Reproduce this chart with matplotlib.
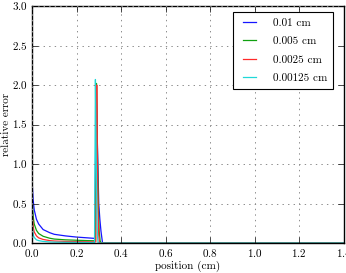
import matplotlib
matplotlib.use("Agg")
import matplotlib.pyplot as plt

plt.style.use("classic")
plt.rcParams["font.family"] = ["cmr10", "DejaVu Serif"]
plt.rcParams["axes.formatter.use_mathtext"] = True
plt.rcParams["font.size"] = 8

labels = ["0.01 cm", "0.005 cm", "0.0025 cm", "0.00125 cm"]
colors = ["#1515ff", "#10a010", "#ff2a2a", "#20d8d8"]

x_blue = [0.0, 0.005, 0.01, 0.02, 0.03, 0.05, 0.08, 0.1, 0.15, 0.2, 0.25, 0.283,
          0.288, 0.292, 0.296, 0.30, 0.305, 0.31, 0.317, 0.33, 1.4]
y_blue = [0.8, 0.55, 0.42, 0.3, 0.24, 0.17, 0.13, 0.11, 0.09, 0.075, 0.065, 0.058,
          2.0, 1.5, 1.0, 0.5, 0.3, 0.15, 0.0, 0.0, 0.0]

x_green = [0.0, 0.003, 0.006, 0.01, 0.02, 0.03, 0.05, 0.08, 0.1, 0.15, 0.2, 0.25, 0.285,
           0.29, 0.294, 0.298, 0.302, 0.306, 0.31, 1.4]
y_green = [0.6, 0.42, 0.32, 0.24, 0.16, 0.12, 0.085, 0.06, 0.05, 0.04, 0.035, 0.03, 0.028,
           2.02, 1.2, 0.5, 0.15, 0.03, 0.0, 0.0]

x_red = [0.0, 0.002, 0.004, 0.007, 0.01, 0.02, 0.03, 0.05, 0.08, 0.1, 0.15, 0.2, 0.25, 0.287,
         0.291, 0.294, 0.297, 0.3, 0.303, 1.4]
y_red = [0.5, 0.35, 0.26, 0.18, 0.14, 0.09, 0.065, 0.045, 0.03, 0.025, 0.02, 0.018, 0.016, 0.015,
         2.0, 1.0, 0.4, 0.1, 0.0, 0.0]

x_cyan = [0.0, 0.002, 0.004, 0.007, 0.01, 0.02, 0.03, 0.05, 0.08, 0.1, 0.15, 0.2, 0.25, 0.281,
          0.285, 0.288, 0.291, 0.294, 0.297, 1.4]
y_cyan = [0.35, 0.22, 0.14, 0.09, 0.07, 0.04, 0.03, 0.02, 0.013, 0.011, 0.009, 0.008, 0.007, 0.007,
          2.07, 1.2, 0.5, 0.1, 0.0, 0.0]

series = [(x_blue, y_blue), (x_green, y_green), (x_red, y_red), (x_cyan, y_cyan)]

W, H = 346, 273
fig = plt.figure(figsize=(W / 100, H / 100), dpi=100)
ax = fig.add_axes([32 / W, 1 - 243 / H, 311.5 / W, 237 / H])

for (xs, ys), c, lab in zip(series, colors, labels):
    ax.plot(xs, ys, color=c, lw=0.9, label=lab)

ax.set_xlim(0, 1.4)
ax.set_ylim(0, 3.0)
ax.set_xticks([0.0, 0.2, 0.4, 0.6, 0.8, 1.0, 1.2, 1.4])
ax.set_yticks([0.0, 0.5, 1.0, 1.5, 2.0, 2.5, 3.0])
ax.set_xlabel("position (cm)")
ax.set_ylabel("relative error")
# label anchors: top of the x label, right side of the rotated y label
ax.xaxis.set_label_coords(0.5, (243 - 260.5) / 237)
ax.yaxis.set_label_coords((11 - 32) / 311.5, 0.5)
ax.grid(True, color="0.55", linestyle=":", linewidth=0.7)
ax.tick_params(labelsize=8, pad=3)

leg = ax.legend(loc="upper right", fontsize=8, handlelength=1.8, handletextpad=1.2,
                borderpad=0.55, labelspacing=0.78, frameon=True, borderaxespad=0,
                bbox_to_anchor=((333 - 32) / 311.5, (243 - 12) / 237))
leg.get_frame().set_linewidth(0.8)

fig.savefig("out.png", dpi=100)
